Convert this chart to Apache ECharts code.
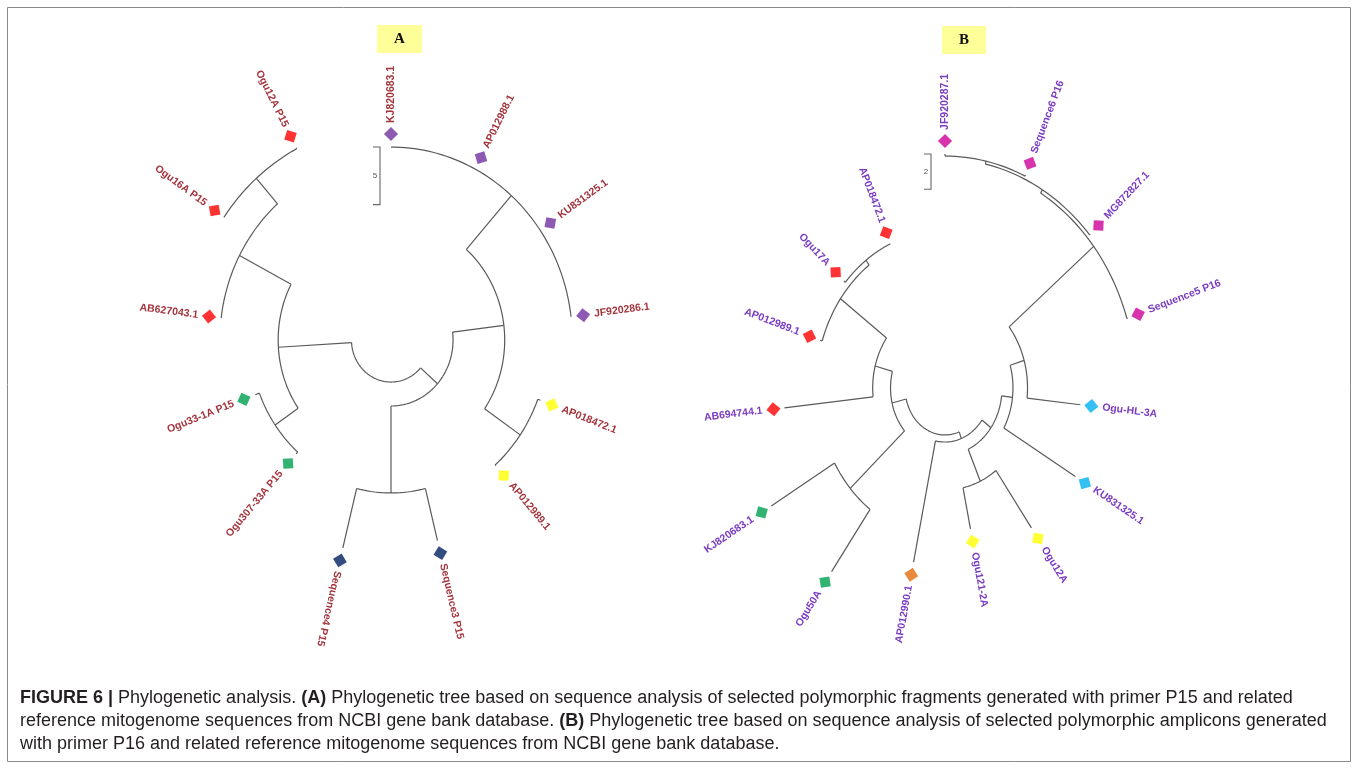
<!DOCTYPE html>
<html>
<head>
<meta charset="utf-8">
<script src="https://cdn.jsdelivr.net/npm/echarts@6/dist/echarts.min.js"></script>
<style>
html,body{margin:0;padding:0;background:#fff;}
#chart{width:1358px;height:769px;}
</style>
</head>
<body>
<div id="chart"></div>
<script>
// tree A (primer P15): leaves clockwise from the top, tip depth in branch-length units
var leavesA = ['KJ820683.1','AP012988.1','KU831325.1','JF920286.1','AP018472.1','AP012989.1',
    'Sequence3 P15','Sequence4 P15','Ogu307-33A P15','Ogu33-1A P15','AB627043.1','Ogu16A P15','Ogu12A P15'];
var tipsA = [16.75,16.75,16.75,16.75,14.76,14.58,17.93,18.58,13.2,13.4,15.8,18.66,18.84];
// internal nodes, children first: [id, depth, children]
var nodesA = [
    ['a1', 16.75, ['KJ820683.1','AP012988.1','KU831325.1','JF920286.1']],
    ['a2', 14.5, ['AP018472.1','AP012989.1']],
    ['a3', 10.5, ['a1','a2']],
    ['a4', 13.28, ['Sequence3 P15','Sequence4 P15']],
    ['a5', 5.73, ['a3','a4']],
    ['a6', 13.0, ['Ogu307-33A P15','Ogu33-1A P15']],
    ['a7', 18.75, ['Ogu16A P15','Ogu12A P15']],
    ['a8', 15.8, ['AB627043.1','a7']],
    ['a9', 10.42, ['a6','a8']],
    ['a0', 3.65, ['a5','a9']]
];
var scaleA = 5;

// tree B (primer P16)
var leavesB = ['JF920287.1','Sequence6 P16','MG872827.1','Sequence5 P16','Ogu-HL-3A','KU831325.1',
    'Ogu12A','Ogu121-2A','AP012990.1','Ogu50A','KJ820683.1','AB694744.1','AP012989.1','Ogu17A','AP018472.1'];
var tipsB = [13.26,13.2,13.03,12.8,9.07,10.03,9.8,8.16,10.08,12.86,13.37,10.76,8.76,9.07,8.9];
var nodesB = [
    ['b1', 13.14, ['JF920287.1','Sequence6 P16']],
    ['b2', 12.97, ['b1','MG872827.1']],
    ['b3', 12.75, ['b2','Sequence5 P16']],
    ['b4', 5.5, ['b3','Ogu-HL-3A']],
    ['b5', 4.53, ['b4','KU831325.1']],
    ['b6', 5.78, ['Ogu12A','Ogu121-2A']],
    ['b7', 3.8, ['b5','b6']],
    ['b8', 3.06, ['b7','AP012990.1']],
    ['b9', 8.5, ['Ogu50A','KJ820683.1']],
    ['b10', 8.95, ['Ogu17A','AP018472.1']],
    ['b11', 8.61, ['AP012989.1','b10']],
    ['b12', 4.82, ['AB694744.1','b11']],
    ['b13', 3.63, ['b9','b12']],
    ['b0', 2.66, ['b8','b13']]
];
var scaleB = 2;

// marker colours per leaf
var colorsA = ['#7030a0','#7030a0','#7030a0','#7030a0','#ffff00','#ffff00','#002060','#002060',
    '#00a04f','#00a04f','#ff0000','#ff0000','#ff0000'];
var colorsB = ['#cc0099','#cc0099','#cc0099','#cc0099','#00b0f0','#00b0f0','#ffff00','#ffff00',
    '#e46c0a','#00a04f','#00a04f','#ff0000','#ff0000','#ff0000','#ff0000'];

// layout of each panel: centre in px, px per unit, horizontal squeeze of the original picture
var panelA = {cx:391, cy:340, unit:11.52, k:0.94, span:24, flipAt:195, labelColor:'#a3343c', barDx:-11};
var panelB = {cx:945, cy:388, unit:17.65, k:0.85, span:16, flipAt:180, labelColor:'#7a3cc2', barDx:-14};

function polar(r, deg){
    var a = deg*Math.PI/180;
    return [r*Math.sin(a), r*Math.cos(a)];
}

function layoutTree(leaves, tips, nodes){
    var info = {}, segs = [], n = leaves.length;
    leaves.forEach(function(name, i){ info[name] = {ang: i*360/n, r: tips[i]}; });
    nodes.forEach(function(nd){
        var kids = nd[2].map(function(k){ return info[k]; });
        var a0 = kids[0].ang, a1 = kids[kids.length-1].ang;
        info[nd[0]] = {ang: (a0+a1)/2, r: nd[1]};
        segs.push([1, a0, a1, nd[1], nd[1]]);
        kids.forEach(function(k){
            if(k.r > nd[1]) segs.push([0, k.ang, k.ang, nd[1], k.r]);
        });
    });
    return segs;
}

function gridOf(p){
    var w = p.span*2*p.unit*p.k, h = p.span*2*p.unit;
    return {left:p.cx-w/2, top:p.cy-h/2, width:w, height:h};
}

var grids = [gridOf(panelA), gridOf(panelB)];
var xAxes = [panelA, panelB].map(function(p, i){ return {gridIndex:i, type:'value', min:-p.span, max:p.span, show:false}; });
var yAxes = [panelA, panelB].map(function(p, i){ return {gridIndex:i, type:'value', min:-p.span, max:p.span, show:false}; });

function treeSeries(idx, leaves, tips, nodes, colors, p, scaleLen){
    var segs = layoutTree(leaves, tips, nodes);
    var n = leaves.length;
    var markOff = 13/p.unit;
    var out = [];
    // branches
    out.push({
        type:'custom', xAxisIndex:idx, yAxisIndex:idx, silent:true,
        data: segs,
        renderItem: function(params, api){
            var kind = api.value(0), a1 = api.value(1), a2 = api.value(2), r1 = api.value(3), r2 = api.value(4);
            var pts = [];
            if(kind === 0){
                pts = [api.coord(polar(r1, a1)), api.coord(polar(r2, a1))];
            } else {
                var steps = Math.max(2, Math.ceil(Math.abs(a2-a1)/1.5));
                for(var i=0;i<=steps;i++) pts.push(api.coord(polar(r1, a1+(a2-a1)*i/steps)));
            }
            return {type:'polyline', shape:{points:pts}, style:{stroke:'#5a5a5a', lineWidth:1.2, fill:null}};
        }
    });
    // leaf markers
    out.push({
        type:'scatter', xAxisIndex:idx, yAxisIndex:idx, silent:true,
        symbol:'rect', symbolSize:10,
        data: leaves.map(function(name, i){
            var ang = i*360/n;
            return {value: polar(tips[i]+markOff, ang), symbolRotate: -(ang+45), itemStyle:{color:colors[i]}};
        })
    });
    // leaf labels
    out.push({
        type:'custom', xAxisIndex:idx, yAxisIndex:idx, silent:true,
        data: leaves.map(function(name, i){ return [i*360/n, tips[i]+markOff, i]; }),
        renderItem: function(params, api){
            var ang = api.value(0), r = api.value(1), i = api.value(2);
            var pt = api.coord(polar(r, ang)), c = api.coord([0,0]);
            var dx = pt[0]-c[0], dy = pt[1]-c[1], len = Math.sqrt(dx*dx+dy*dy);
            dx /= len; dy /= len;
            var gap = 11;
            var rot = Math.atan2(-dy, dx), align = 'left';
            if(ang > p.flipAt){ rot += Math.PI; align = 'right'; }
            return {
                type:'text', x:pt[0]+dx*gap, y:pt[1]+dy*gap, rotation:rot,
                style:{text:leaves[i], fill:p.labelColor, fontSize:10.5, fontWeight:'bold',
                    fontFamily:'Liberation Sans, Arial, sans-serif', align:align, verticalAlign:'middle'}
            };
        }
    });
    // scale bar
    out.push({
        type:'custom', xAxisIndex:idx, yAxisIndex:idx, silent:true,
        data: [[tips[0], scaleLen]],
        renderItem: function(params, api){
            var top = api.coord([0, api.value(0)]), bot = api.coord([0, api.value(0)-api.value(1)]);
            var x = top[0]+p.barDx;
            return {type:'group', children:[
                {type:'polyline', shape:{points:[[x-7,top[1]],[x,top[1]],[x,bot[1]],[x-7,bot[1]]]},
                    style:{stroke:'#666', lineWidth:1.1, fill:null}},
                {type:'text', x:x-5, y:(top[1]+bot[1])/2,
                    style:{text:String(api.value(1)), fill:'#555', fontSize:8,
                        fontFamily:'Liberation Sans, Arial, sans-serif', align:'center', verticalAlign:'middle'}}
            ]};
        }
    });
    return out;
}

var series = [].concat(
    treeSeries(0, leavesA, tipsA, nodesA, colorsA, panelA, scaleA),
    treeSeries(1, leavesB, tipsB, nodesB, colorsB, panelB, scaleB)
);

var capFont = 'Liberation Sans, Arial, sans-serif';
var capRich = {b:{fontWeight:'bold', fontSize:18, fontFamily:capFont, fill:'#231f20'}};
var capLines = [
    '{b|FIGURE 6 |} Phylogenetic analysis. {b|(A)} Phylogenetic tree based on sequence analysis of selected polymorphic fragments generated with primer P15 and related',
    'reference mitogenome sequences from NCBI gene bank database. {b|(B)} Phylogenetic tree based on sequence analysis of selected polymorphic amplicons generated',
    'with primer P16 and related reference mitogenome sequences from NCBI gene bank database.'
];

var graphic = [
    {type:'rect', shape:{x:7.5, y:7.5, width:1343, height:754}, style:{fill:null, stroke:'#8a8a8a', lineWidth:1}, silent:true},
    {type:'rect', shape:{x:377, y:25, width:45, height:28}, style:{fill:'#ffff99'}, silent:true},
    {type:'text', x:399.5, y:39.5, style:{text:'A', fontSize:15, fontWeight:'bold', fontFamily:'Liberation Serif, serif', fill:'#111', align:'center', verticalAlign:'middle'}},
    {type:'rect', shape:{x:942, y:26, width:44, height:28}, style:{fill:'#ffff99'}, silent:true},
    {type:'text', x:964, y:40.5, style:{text:'B', fontSize:15, fontWeight:'bold', fontFamily:'Liberation Serif, serif', fill:'#111', align:'center', verticalAlign:'middle'}}
];
capLines.forEach(function(t, i){
    graphic.push({type:'text', x:20, y:698+i*23, silent:true,
        style:{text:t, fontSize:18, fontFamily:capFont, fill:'#231f20', verticalAlign:'middle', rich:capRich}});
});

var myChart = echarts.init(document.getElementById('chart'));
myChart.setOption({
    animation:false,
    backgroundColor:'#fff',
    grid: grids,
    xAxis: xAxes,
    yAxis: yAxes,
    series: series,
    graphic: graphic
});
</script>
</body>
</html>
